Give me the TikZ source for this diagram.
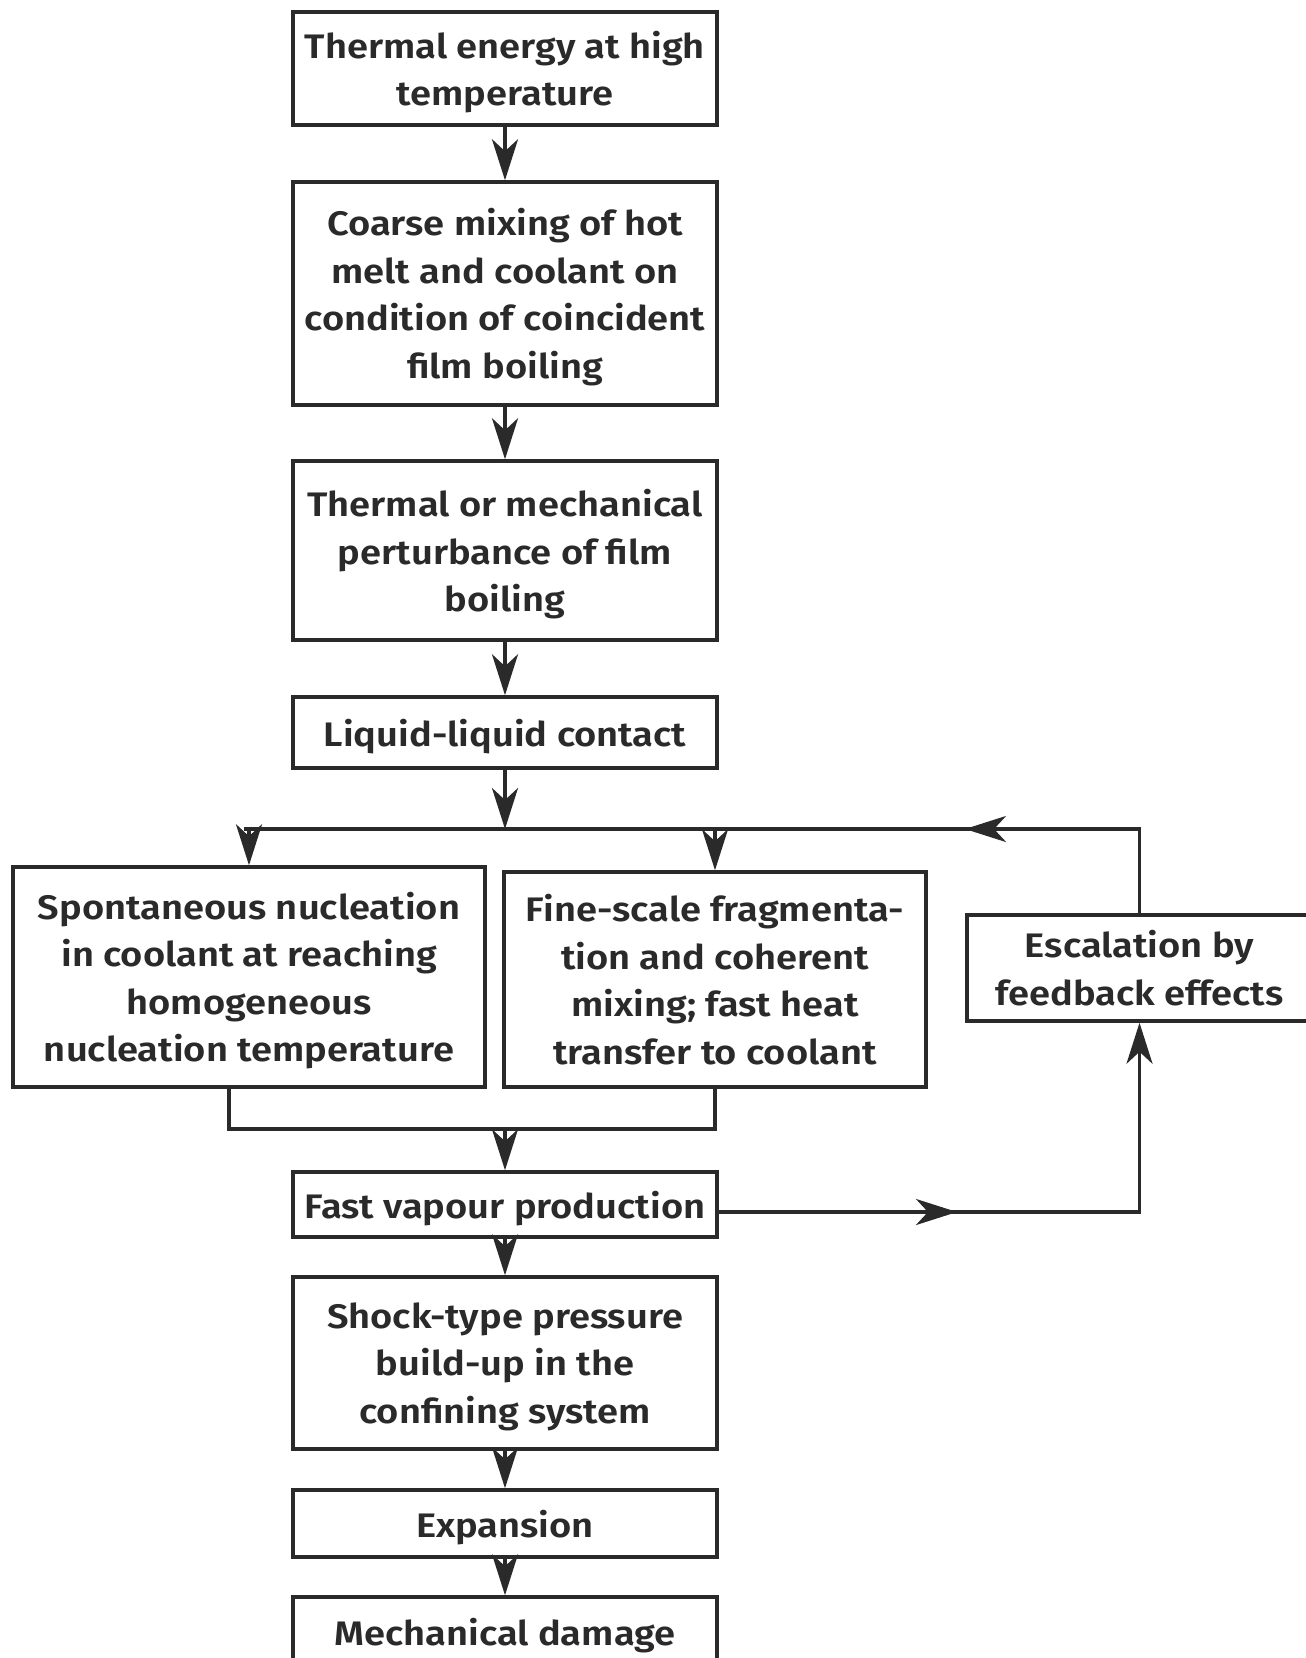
\documentclass[tikz,border=0pt]{standalone}
\usepackage{fontspec}
\setmainfont{Fira Sans}[UprightFont={* SemiBold}, FakeStretch=1.12]
\usetikzlibrary{arrows.meta}
\definecolor{ink}{HTML}{2A2A2A}
\begin{document}
\begin{tikzpicture}[x=1pt,y=-1pt,
  box/.style={draw=ink, line width=3.5pt, inner sep=0pt, align=center, text=ink, text depth=0pt,
    font=\fontsize{34}{47.5}\selectfont},
  conn/.style={draw=ink, line width=3.5pt},
  arr/.style={conn, -{Stealth[length=41pt,width=26pt,inset=12pt]}}]
\useasboundingbox (0,0) rectangle (1306,1658);
\clip (0,0) rectangle (1306,1658);
\fill[white] (0,0) rectangle (1306,1658);

\node[box, minimum width=424pt, minimum height=113pt] (t1) at (505,68.5) {Thermal energy at high\\temperature};
\node[box, minimum width=424pt, minimum height=223pt] (t2) at (505,293.5) {Coarse mixing of hot\\melt and coolant on\\condition of coincident\\film boiling};
\node[box, minimum width=424pt, minimum height=179pt] (t3) at (505,550.5) {Thermal or mechanical\\perturbance of film\\boiling};
\node[box, minimum width=424pt, minimum height=71pt] (t4) at (505,732.5) {Liquid-liquid contact};
\node[box, minimum width=472pt, minimum height=220pt] (lb) at (249,977) {Spontaneous nucleation\\in coolant at reaching\\homogeneous\\nucleation temperature};
\node[box, minimum width=422pt, minimum height=215pt] (mb) at (715,979.5) {Fine-scale fragmenta-\\tion and coherent\\mixing; fast heat\\transfer to coolant};
\node[box, minimum width=345pt, minimum height=106pt] (esc) at (1139.5,968) {Escalation by\\feedback effects};
\node[box, minimum width=424pt, minimum height=65pt] (fv) at (505,1204.5) {Fast vapour production};
\node[box, minimum width=424pt, minimum height=172pt] (sh) at (505,1363) {Shock-type pressure\\build-up in the\\confining system};
\node[box, minimum width=424pt, minimum height=67pt] (ex) at (505,1523.5) {Expansion};
\node[box, minimum width=424pt, minimum height=70pt] (md) at (505,1632) {Mechanical damage};

\coordinate (split) at (505,829);
\coordinate (fbtip) at (965,829);
\coordinate (m1) at (229,1129);
\coordinate (m2) at (715,1129);
\coordinate (mj) at (505,1129);
\coordinate (fvr) at (717,1212);
\coordinate (fwtip) at (957,1212);

\draw[arr] (t1) -- (t2);
\draw[arr] (t2) -- (t3);
\draw[arr] (t3) -- (t4);
\draw[arr] (t4) -- (split);
\draw[conn] (esc.north) |- ([xshift=-5pt]lb.north |- split);
\draw[arr] (esc.north |- split) -- (fbtip);
\draw[arr] (lb.north |- split) -- (lb.north);
\draw[arr] (mb.north |- split) -- (mb.north);
\draw[conn] (lb.south -| m1) |- (m2) -- (mb.south);
\draw[arr] (mj) -- (fv);
\draw[arr] (fvr) -| (esc.south);
\draw[arr] (fvr) -- (fwtip);
\draw[arr] (fv) -- (sh);
\draw[arr] (sh) -- (ex);
\draw[arr] (ex) -- (md);
\end{tikzpicture}
\end{document}
